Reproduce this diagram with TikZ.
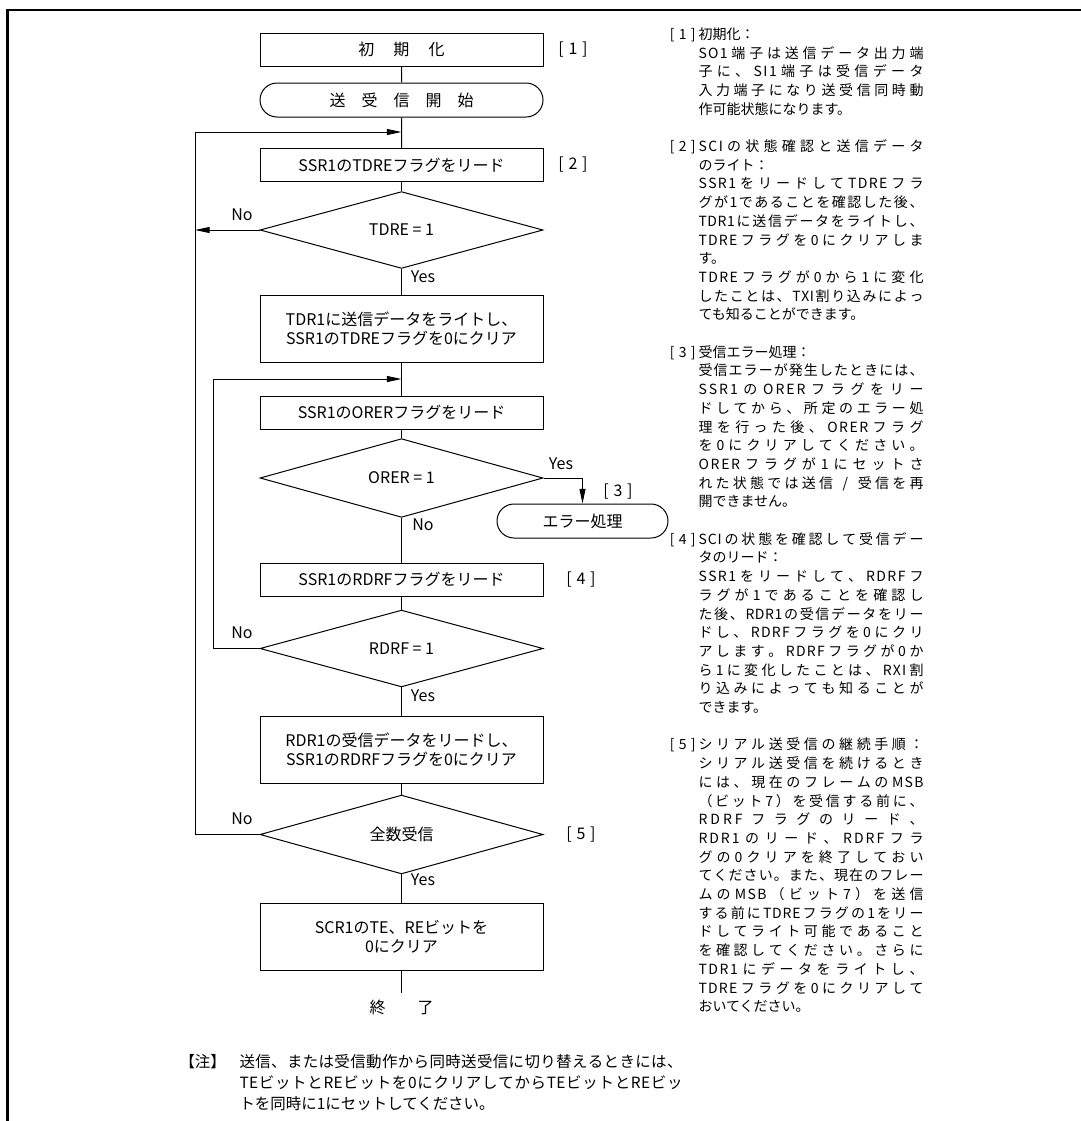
\documentclass[tikz,border=0pt]{standalone}
\usepackage{fontspec}
\setmainfont{Noto Sans CJK JP}
\usetikzlibrary{shapes.geometric,shapes.misc,arrows.meta}
\newlength\colw \setlength\colw{168.75pt}
\newlength\notew \setlength\notew{332.25pt}
\newcommand\fcfont{\fontsize{12pt}{14.25pt}\selectfont}
\newcommand\rcfont{\fontsize{10.5pt}{14pt}\selectfont}
\newcommand\ntfont{\fontsize{11.6pt}{15.75pt}\selectfont}
% spread characters: insert stretchable glue between tokens
\newif\ifSPprev \newif\ifSPcur
\def\SPend{\SPend}
\def\SPtest#1{\SPcurfalse\ifcat\noexpand#1\relax\else\ifnum`#1<128 \SPcurtrue\fi\fi}
\def\SPset{\ifSPcur\SPprevtrue\else\SPprevfalse\fi}
\def\SPglue{\hskip 0pt plus 1fil\relax}
\def\SPsmall{\hskip 0pt plus 0.35fil\relax}
\def\SPa#1{\SPtest{#1}\SPset#1\SPb}
\def\SPb#1{\ifx\SPend#1\else\SPtest{#1}\ifSPprev\ifSPcur\SPsmall\else\SPglue\fi\else\SPglue\fi\SPset#1\expandafter\SPb\fi}
\newcommand\spreadto[2]{\makebox[#1][s]{\SPa#2\SPend}}
\newcounter{lnc}
\newcommand\RL[2]{\stepcounter{lnc}\node[rt] (ln\thelnc) at (698,{39.3+18.7*#1}) {#2};}
\newcommand\RJ[2]{\stepcounter{lnc}\node[rt] (ln\thelnc) at (698,{39.3+18.7*#1}) {\spreadto{\colw}{#2}};}
\newcommand\RH[2]{\node[rb] (hd#1) at (696,{39.3+18.7*#2}) {[\hspace{0.3em}#1\hspace{0.3em}]};}
\begin{document}
\begin{tikzpicture}[x=0.75pt,y=-0.75pt,
  line width=0.75pt,
  box/.style={draw, minimum width=212.25pt, minimum height=24.75pt, inner sep=0pt, align=center, font=\fcfont},
  tallbox/.style={box, minimum height=50.25pt},
  term/.style={draw, rounded rectangle, minimum width=212.25pt, minimum height=25.5pt, inner sep=0pt, font=\fcfont},
  dec/.style={draw, diamond, minimum width=212.25pt, minimum height=49.5pt, inner sep=0pt, font=\fcfont},
  lab/.style={inner sep=0pt, font=\fcfont},
  arr/.style={-{Triangle[length=11pt,width=4.5pt]}},
  rt/.style={anchor=base west, inner sep=0pt, font=\rcfont},
  rb/.style={anchor=base east, inner sep=0pt, font=\rcfont},
  nt/.style={anchor=base west, inner sep=0pt, font=\ntfont},
]
\useasboundingbox (0,0) rectangle (1081,1121);
% frame
\draw[line width=2pt] (7.5,1121) -- (7.5,10) -- (1081,10);

% flowchart nodes
\node[box] (init) at (401.5,49.5) {初\hspace{1.2em}期\hspace{1.2em}化};
\node[term] (start) at (401.5,100) {送\hspace{1em}受\hspace{1em}信\hspace{1em}開\hspace{1em}始};
\node[box] (rd1) at (401.5,165) {SSR1のTDREフラグをリード};
\node[dec] (d1) at (401.5,230) {TDRE = 1};
\node[tallbox] (wr) at (401.5,328.5) {TDR1に送信データをライトし、\\SSR1のTDREフラグを0にクリア};
\node[box] (rd2) at (401.5,412.5) {SSR1のORERフラグをリード};
\node[dec] (d2) at (401.5,478) {ORER = 1};
\node[term, minimum width=128.25pt] (err) at (582.5,521) {エラー処理};
\node[box] (rd3) at (401.5,579.5) {SSR1のRDRFフラグをリード};
\node[dec] (d3) at (401.5,648.5) {RDRF = 1};
\node[tallbox] (rr) at (401.5,749.5) {RDR1の受信データをリードし、\\SSR1のRDRFフラグを0にクリア};
\node[dec] (d4) at (401.5,834.5) {全数受信};
\node[tallbox] (clr) at (401.5,937) {SCR1のTE、REビットを\\0にクリア};
\coordinate (endp) at (401.5,993);
\node[lab] (fin) at (401.5,1007) {終\hspace{2em}了};

% step labels
\node[lab] (s1) at (573,50) {[\hspace{0.3em}1\hspace{0.3em}]};
\node[lab] (s2) at (573,165) {[\hspace{0.3em}2\hspace{0.3em}]};
\node[lab] (s3) at (618,492) {[\hspace{0.3em}3\hspace{0.3em}]};
\node[lab] (s4) at (581,580) {[\hspace{0.3em}4\hspace{0.3em}]};
\node[lab] (s5) at (581,834.5) {[\hspace{0.3em}5\hspace{0.3em}]};

% yes/no labels
\node[lab] (n1) at (242,215) {No};
\node[lab] (y1) at (423,277) {Yes};
\node[lab] (y2) at (561,464) {Yes};
\node[lab] (n2) at (423,525) {No};
\node[lab] (n3) at (242,633) {No};
\node[lab] (y3) at (423,696) {Yes};
\node[lab] (n4) at (242,819) {No};
\node[lab] (y4) at (423,880) {Yes};

% merge points
\coordinate (m1) at (401.5,132);
\coordinate (L1) at (195,132);
\coordinate (m2) at (401.5,379);
\coordinate (L2) at (213,379);

% connectors
\draw (init) -- (start);
\draw (start) -- (rd1);
\draw (rd1) -- (d1);
\draw (d1) -- (wr);
\draw (wr) -- (rd2);
\draw (rd2) -- (d2);
\draw (d2) -- (rd3);
\draw (rd3) -- (d3);
\draw (d3) -- (rr);
\draw (rr) -- (d4);
\draw (d4) -- (clr);
\draw (clr) -- (endp);
\draw[arr] (L1) -- (m1);
\draw[arr] (L2) -- (m2);
\draw[arr] (d1.west) -- (d1.west -| L1);
\draw (d4.west) -- (d4.west -| L1) -- (L1);
\draw (d3.west) -- (d3.west -| L2) -- (L2);
\draw[arr] (d2.east) -| (err.north);

% right column
\RH{1}{0}\RL{0}{初期化：}
\RJ{1}{SO1端子は送信データ出力端}
\RJ{2}{子に、SI1端子は受信データ}
\RJ{3}{入力端子になり送受信同時動}
\RL{4}{作可能状態になります。}
\RH{2}{6}\RJ{6}{SCIの状態確認と送信データ}
\RL{7}{のライト：}
\RJ{8}{SSR1をリードしてTDREフラ}
\RJ{9}{グが1であることを確認した後、}
\RJ{10}{TDR1に送信データをライトし、}
\RJ{11}{TDREフラグを0にクリアしま}
\RL{12}{す。}
\RJ{13}{TDREフラグが0から1に変化}
\RJ{14}{したことは、TXI割り込みによっ}
\RL{15}{ても知ることができます。}
\RH{3}{17}\RL{17}{受信エラー処理：}
\RJ{18}{受信エラーが発生したときには、}
\RJ{19}{SSR1のORERフラグをリー}
\RJ{20}{ドしてから、所定のエラー処}
\RJ{21}{理を行った後、ORERフラグ}
\RJ{22}{を0にクリアしてください。}
\RJ{23}{ORERフラグが1にセットさ}
\RJ{24}{れた状態では送信\ /\ 受信を再}
\RL{25}{開できません。}
\RH{4}{27}\RJ{27}{SCIの状態を確認して受信デー}
\RL{28}{タのリード：}
\RJ{29}{SSR1をリードして、RDRFフ}
\RJ{30}{ラグが1であることを確認し}
\RJ{31}{た後、RDR1の受信データをリー}
\RJ{32}{ドし、RDRFフラグを0にクリ}
\RJ{33}{アします。RDRFフラグが0か}
\RJ{34}{ら1に変化したことは、RXI割}
\RJ{35}{り込みによっても知ることが}
\RL{36}{できます。}
\RH{5}{38}\RJ{38}{シリアル送受信の継続手順：}
\RJ{39}{シリアル送受信を続けるとき}
\RJ{40}{には、現在のフレームのMSB}
\RJ{41}{（ビット7）を受信する前に、}
\RJ{42}{RDRFフラグのリード、}
\RJ{43}{RDR1のリード、RDRFフラ}
\RJ{44}{グの0クリアを終了しておい}
\RJ{45}{てください。また、現在のフレー}
\RJ{46}{ムのMSB（ビット7）を送信}
\RJ{47}{する前にTDREフラグの1をリー}
\RJ{48}{ドしてライト可能であること}
\RJ{49}{を確認してください。さらに}
\RJ{50}{TDR1にデータをライトし、}
\RJ{51}{TDREフラグを0にクリアして}
\RL{52}{おいてください。}

% note
\node[nt] (nh) at (179,1067) {【注】};
\node[nt] (nl1) at (239,1067) {\spreadto{\notew}{送信、または受信動作から同時送受信に切り替えるときには、}};
\node[nt] (nl2) at (239,1088) {\spreadto{\notew}{TEビットとREビットを0にクリアしてからTEビットとREビッ}};
\node[nt] (nl3) at (239,1109) {トを同時に1にセットしてください。};
\end{tikzpicture}
\end{document}
